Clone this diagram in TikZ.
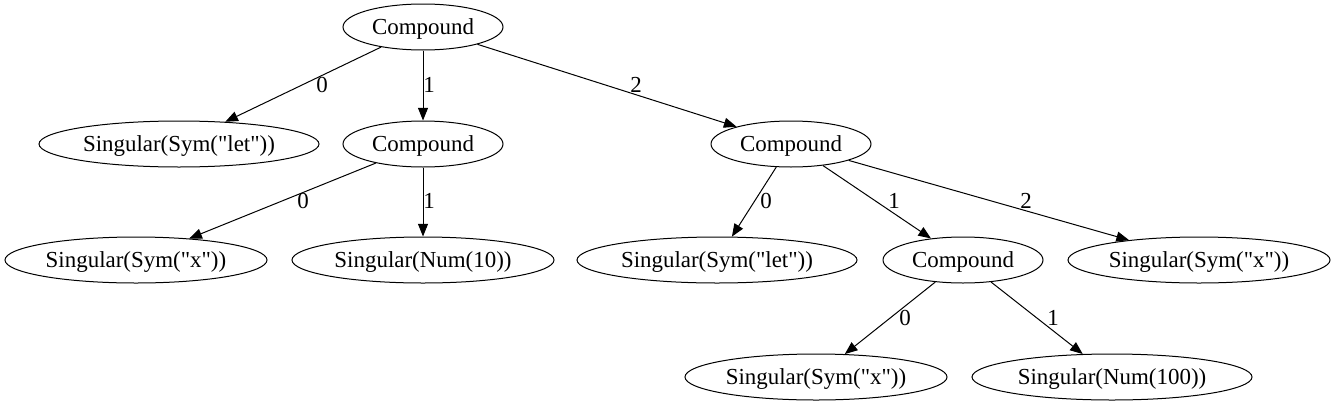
\documentclass[tikz,border=0pt]{standalone}
\usepackage{fontspec}
\setmainfont{Liberation Serif}
\usetikzlibrary{shapes.geometric,arrows.meta}
\newcommand{\qq}{\textquotedbl}
\begin{document}
\begin{tikzpicture}[x=0.75pt,y=-0.75pt,
  nd/.style={draw,ellipse,inner sep=0pt,minimum height=34.5pt,line width=0.75pt,font=\fontsize{17.2}{20}\selectfont,text height=11.2pt,text depth=0pt},
  cw/.style={nd,minimum width=120pt},
  sw/.style={nd,minimum width=210pt},
  nw/.style={nd,minimum width=196.5pt},
  edge/.style={-{Triangle[length=9.5pt,width=7.5pt]},line width=0.75pt},
  lbl/.style={inner sep=0pt,font=\fontsize{17.2}{20}\selectfont}]
\useasboundingbox (0,0) rectangle (1337,407);
\node[cw] (r) at (423,27) {Compound};
\node[sw] (a) at (179,144) {Singular(Sym(\qq let\qq))};
\node[cw] (b) at (423,144) {Compound};
\node[cw] (c) at (791,144) {Compound};
\node[nw] (b0) at (136,260) {Singular(Sym(\qq x\qq))};
\node[nw] (b1) at (423,260) {Singular(Num(10))};
\node[sw] (c0) at (717,260) {Singular(Sym(\qq let\qq))};
\node[cw] (c1) at (963,260) {Compound};
\node[nw] (c2) at (1199,260) {Singular(Sym(\qq x\qq))};
\node[nw] (d0) at (816,377) {Singular(Sym(\qq x\qq))};
\node[sw] (d1) at (1112,377) {Singular(Num(100))};
\draw[edge] (r) -- (a);
\draw[edge] (r) -- (b);
\draw[edge] (r) -- (c);
\draw[edge] (b) -- (b0);
\draw[edge] (b) -- (b1);
\draw[edge] (c) -- (c0);
\draw[edge] (c) -- (c1);
\draw[edge] (c) -- (c2);
\draw[edge] (c1) -- (d0);
\draw[edge] (c1) -- (d1);
\node[lbl] (l1) at (322,85) {0};
\node[lbl] (l2) at (429,85) {1};
\node[lbl] (l3) at (636,85) {2};
\node[lbl] (l4) at (303,201) {0};
\node[lbl] (l5) at (429,201) {1};
\node[lbl] (l6) at (766,201) {0};
\node[lbl] (l7) at (894,201) {1};
\node[lbl] (l8) at (1026,201) {2};
\node[lbl] (l9) at (905,318) {0};
\node[lbl] (l10) at (1053,318) {1};
\end{tikzpicture}
\end{document}
